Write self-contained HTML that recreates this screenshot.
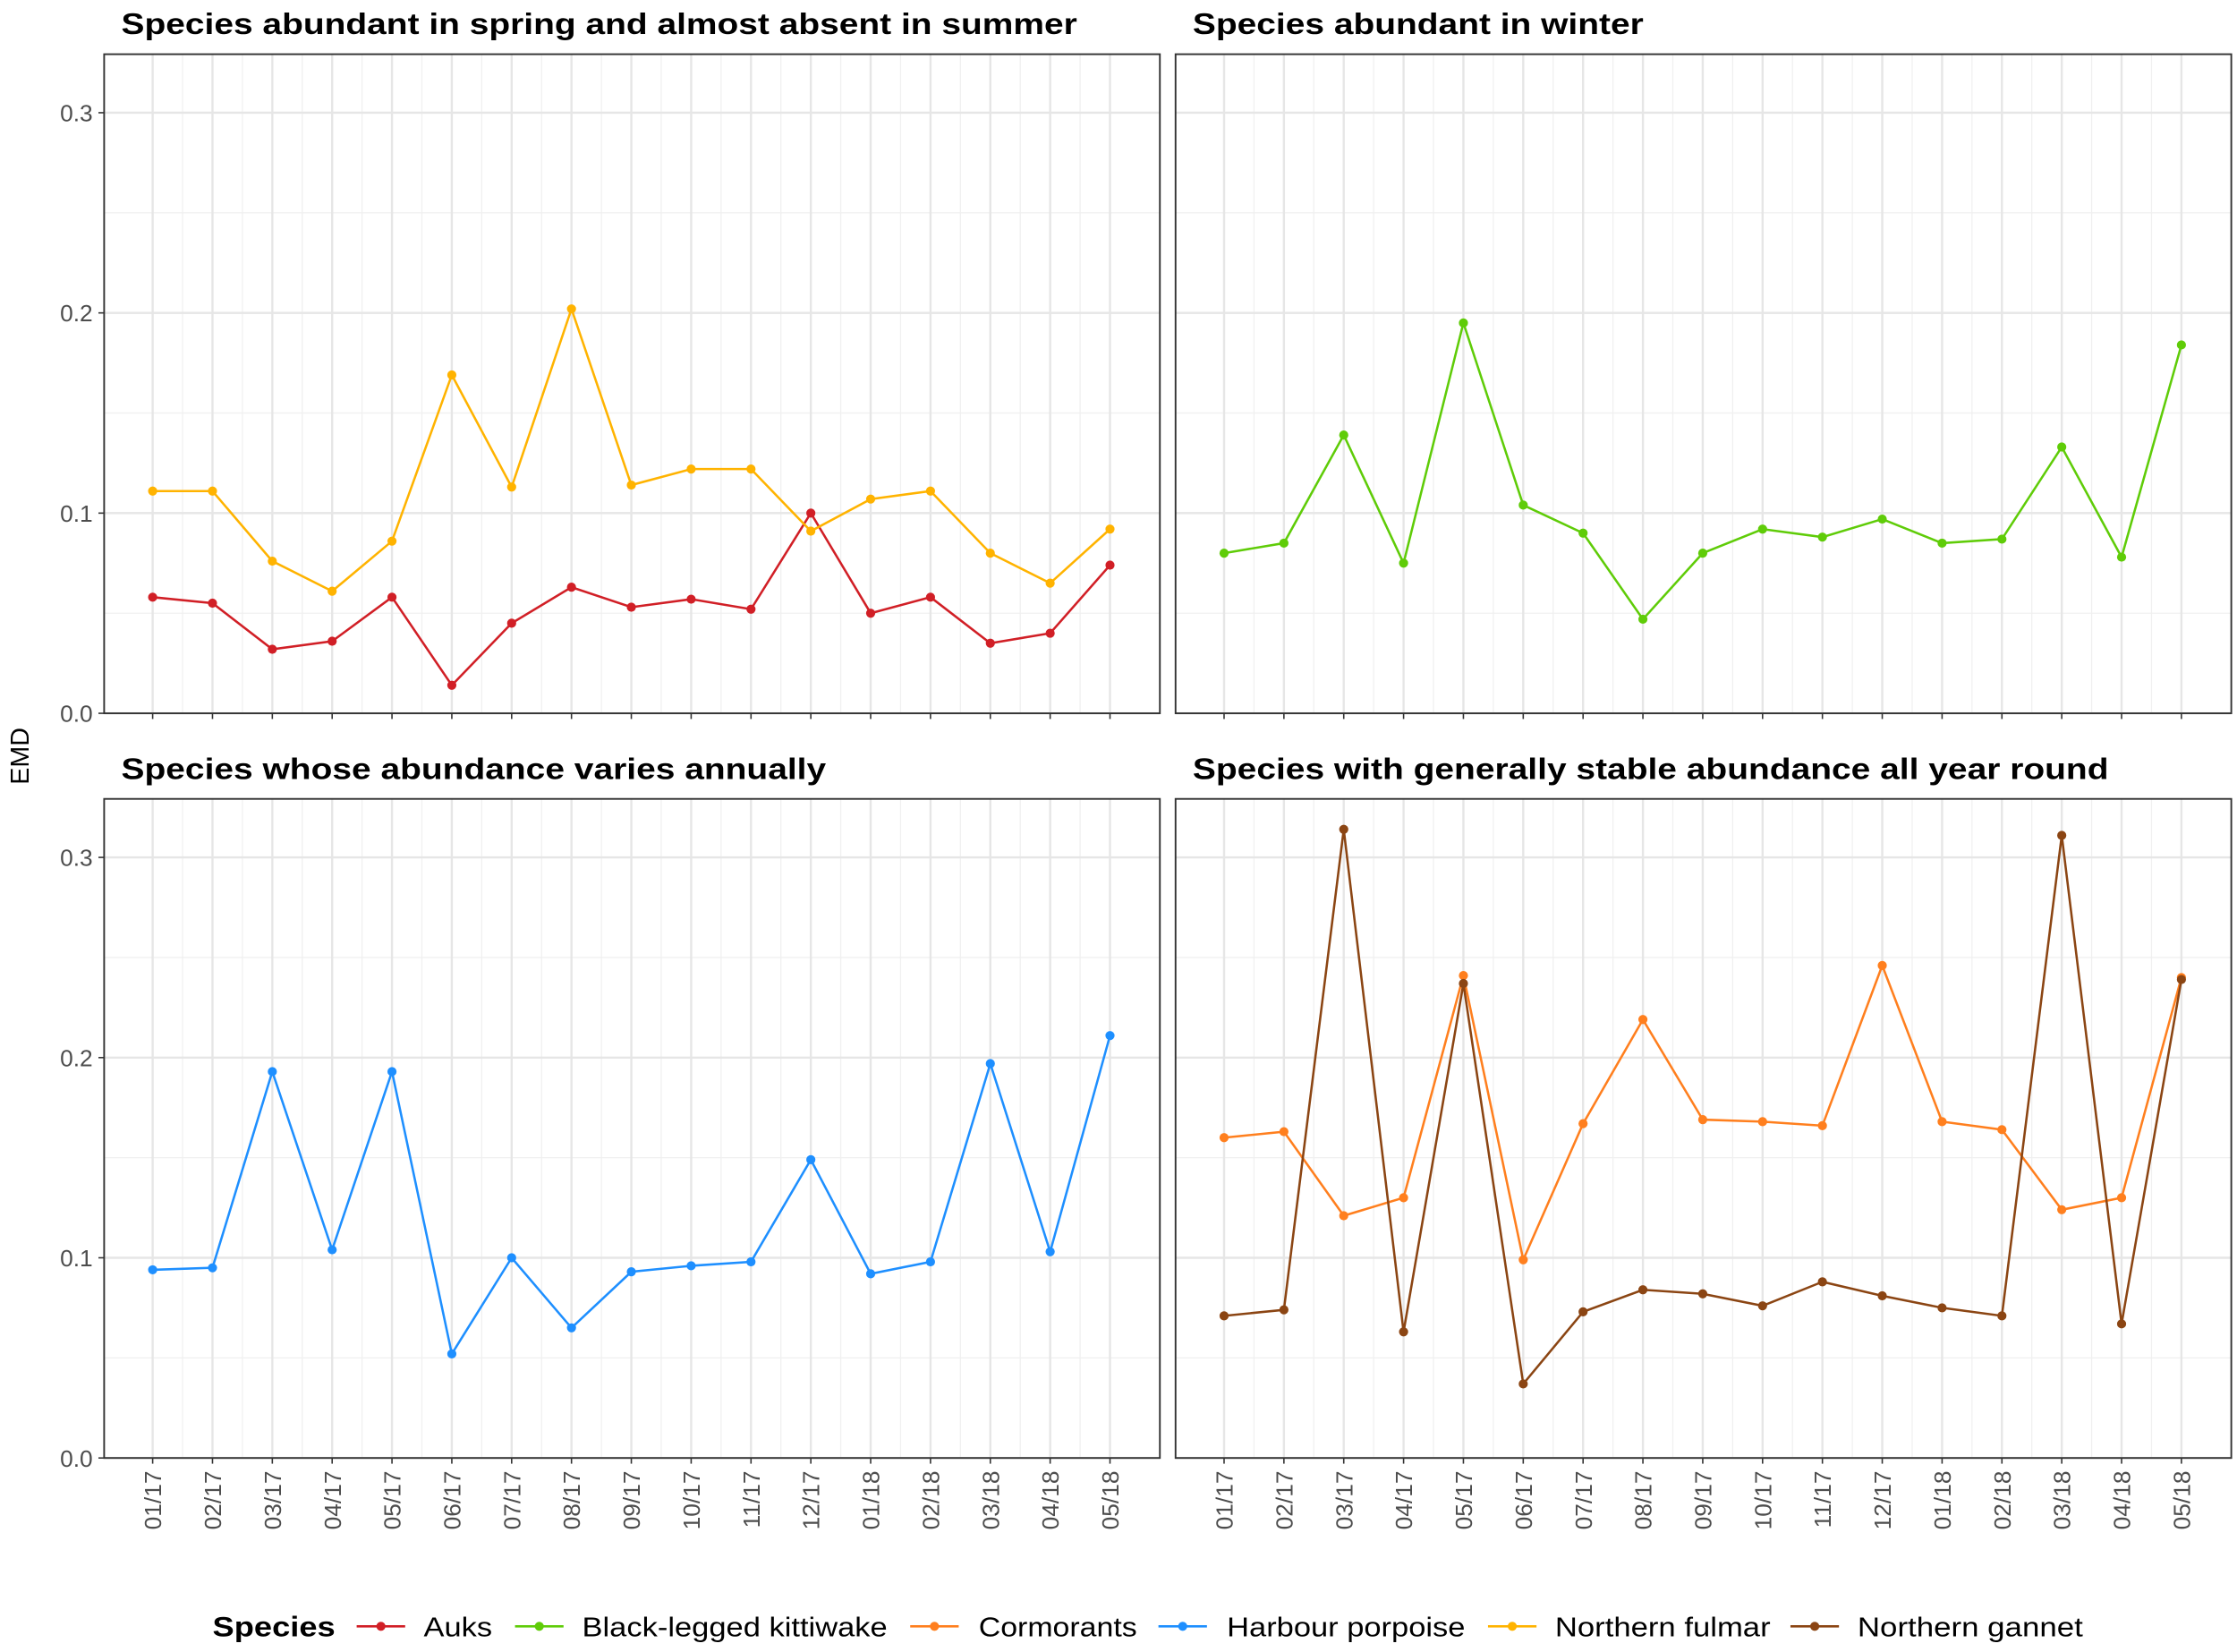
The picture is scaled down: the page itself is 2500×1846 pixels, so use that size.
<!DOCTYPE html>
<html><head><meta charset="utf-8">
<style>html,body{margin:0;padding:0;background:#fff}svg{display:block}text{font-family:"Liberation Sans",Arial,sans-serif}</style>
</head><body>
<svg id="s" width="2500" height="1846" viewBox="0 0 1568 1158" preserveAspectRatio="none" xmlns="http://www.w3.org/2000/svg"></svg>
<script>
const s=document.getElementById('s');let h='';
const C={a:'#d11f26',k:'#5fcc08',c:'#ff7f1e',p:'#1e8fff',f:'#ffb300',g:'#8b4513'};
const D={
a:[.058,.055,.032,.036,.058,.014,.045,.063,.053,.057,.052,.100,.050,.058,.035,.040,.074],
f:[.111,.111,.076,.061,.086,.169,.113,.202,.114,.122,.122,.091,.107,.111,.080,.065,.092],
k:[.080,.085,.139,.075,.195,.104,.090,.047,.080,.092,.088,.097,.085,.087,.133,.078,.184],
p:[.094,.095,.193,.104,.193,.052,.100,.065,.093,.096,.098,.149,.092,.098,.197,.103,.211],
c:[.160,.163,.121,.130,.241,.099,.167,.219,.169,.168,.166,.246,.168,.164,.124,.130,.240],
g:[.071,.074,.314,.063,.237,.037,.073,.084,.082,.076,.088,.081,.075,.071,.311,.067,.239]};
const labs=['01/17','02/17','03/17','04/17','05/17','06/17','07/17','08/17','09/17','10/17','11/17','12/17','01/18','02/18','03/18','04/18','05/18'];
const P=[{x0:73,x1:813,y0:38,y1:500,t:'Species abundant in spring and almost absent in summer',tl:670,s:['a','f'],yl:1,xl:0},
{x0:824,x1:1564,y0:38,y1:500,t:'Species abundant in winter',tl:316,s:['k'],yl:0,xl:0},
{x0:73,x1:813,y0:560,y1:1022,t:'Species whose abundance varies annually',tl:494,s:['p'],yl:1,xl:1},
{x0:824,x1:1564,y0:560,y1:1022,t:'Species with generally stable abundance all year round',tl:642,s:['c','g'],yl:0,xl:1}];
const step=41.94,ys=1403.3;
P.forEach(p=>{
 const xs=p.x0+34;const Y=v=>p.y1-v*ys;const X=i=>xs+i*step;
 for(let v=0.05;v<0.33;v+=0.1)h+=`<line x1="${p.x0}" x2="${p.x1}" y1="${Y(v)}" y2="${Y(v)}" stroke="#f0f0f0" stroke-width="0.8"/>`;
 for(let i=0;i<16;i++)h+=`<line x1="${X(i+.5)}" x2="${X(i+.5)}" y1="${p.y0}" y2="${p.y1}" stroke="#f0f0f0" stroke-width="0.8"/>`;
 for(let v=0;v<=0.3001;v+=0.1)h+=`<line x1="${p.x0}" x2="${p.x1}" y1="${Y(v)}" y2="${Y(v)}" stroke="#e6e6e6" stroke-width="1.5"/>`;
 for(let i=0;i<17;i++)h+=`<line x1="${X(i)}" x2="${X(i)}" y1="${p.y0}" y2="${p.y1}" stroke="#e6e6e6" stroke-width="1.5"/>`;
 h+=`<rect x="${p.x0}" y="${p.y0}" width="${p.x1-p.x0}" height="${p.y1-p.y0}" fill="none" stroke="#333" stroke-width="1.2"/>`;
 h+=`<text x="${p.x0+12}" y="${p.y0-14}" font-size="21" font-weight="bold" fill="#000" textLength="${p.tl}" lengthAdjust="spacingAndGlyphs">${p.t}</text>`;
 if(p.yl)[0,.1,.2,.3].forEach(v=>{h+=`<line x1="${p.x0-4}" x2="${p.x0}" y1="${Y(v)}" y2="${Y(v)}" stroke="#333"/><text x="${p.x0-8}" y="${Y(v)+6}" font-size="16.5" fill="#4d4d4d" text-anchor="end">${v.toFixed(1)}</text>`});
 for(let i=0;i<17;i++){h+=`<line x1="${X(i)}" x2="${X(i)}" y1="${p.y1}" y2="${p.y1+4}" stroke="#333"/>`;
  if(p.xl)h+=`<text transform="translate(${X(i)+6},${p.y1+9}) rotate(-90)" font-size="16.5" fill="#4d4d4d" text-anchor="end">${labs[i]}</text>`;}
 p.s.forEach(k=>{const pts=D[k].map((v,i)=>X(i)+','+Y(v)).join(' ');
  h+=`<polyline points="${pts}" fill="none" stroke="${C[k]}" stroke-width="1.6"/>`;
  D[k].forEach((v,i)=>h+=`<circle cx="${X(i)}" cy="${Y(v)}" r="3.2" fill="${C[k]}"/>`);});
});
h+=`<text transform="translate(20,530) rotate(-90)" font-size="18" text-anchor="middle">EMD</text>`;
h+=`<text x="149" y="1147" font-size="20" font-weight="bold" textLength="86" lengthAdjust="spacingAndGlyphs">Species</text>`;
const L=[['a','Auks',250,297,48],['k','Black-legged kittiwake',361,408,214],['c','Cormorants',638,686,111],['p','Harbour porpoise',812,860,167],['f','Northern fulmar',1043,1090,151],['g','Northern gannet',1255,1302,158]];
L.forEach(([k,n,x,tx,tl])=>{h+=`<line x1="${x}" x2="${x+34}" y1="1140" y2="1140" stroke="${C[k]}" stroke-width="1.6"/><circle cx="${x+17}" cy="1140" r="3.2" fill="${C[k]}"/><text x="${tx}" y="1147" font-size="19" textLength="${tl}" lengthAdjust="spacingAndGlyphs">${n}</text>`});
s.innerHTML=h;
</script>
</body></html>
